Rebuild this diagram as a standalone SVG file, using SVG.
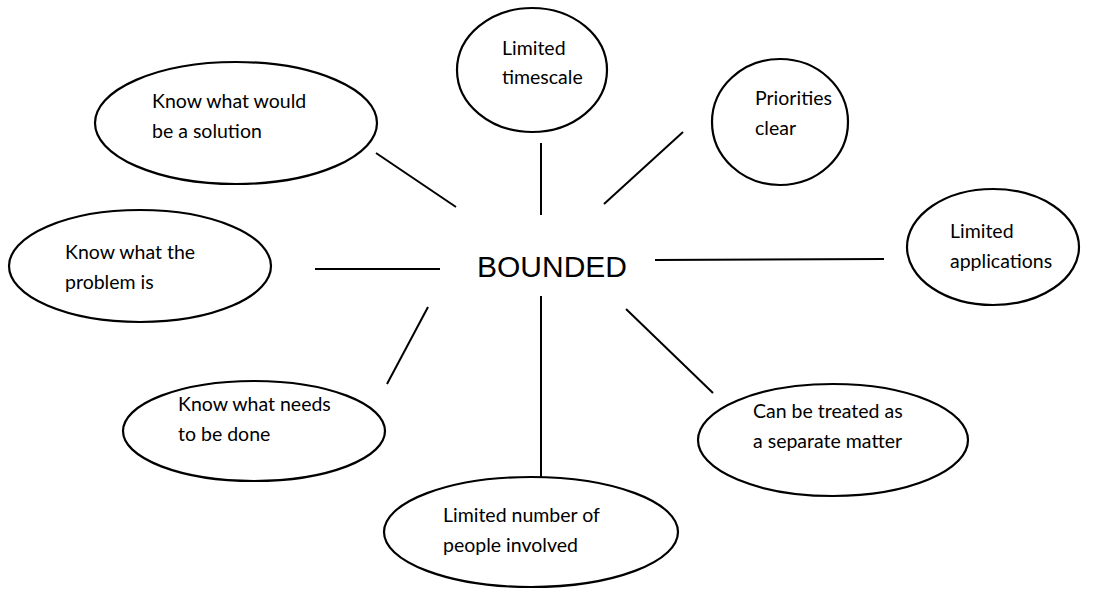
<svg xmlns="http://www.w3.org/2000/svg" width="1100" height="589" viewBox="0 0 1100 589">
<style>
.n ellipse{fill:#fff;stroke:#000;stroke-width:2.2}
.n text{font-family:Lato,"Open Sans",sans-serif;font-size:19.5px;fill:#000}
#edges line{stroke:#000;stroke-width:2}
.c{font-family:"Liberation Sans",Arial,sans-serif;font-size:30px;fill:#000}
</style>
<rect width="1100" height="589" fill="#fff"/>
<g id="edges">
<line x1="376" y1="153" x2="456" y2="207"/>
<line x1="541" y1="143" x2="541" y2="215"/>
<line x1="604" y1="204" x2="683" y2="132"/>
<line x1="655" y1="260" x2="884" y2="259"/>
<line x1="315" y1="269" x2="440" y2="269"/>
<line x1="428" y1="307" x2="387" y2="384"/>
<line x1="541" y1="296" x2="541" y2="489"/>
<line x1="626" y1="309" x2="713" y2="393"/>
</g>
<g id="center"><text class="c" x="477" y="277">BOUNDED</text></g>
<g id="n1" class="n"><ellipse cx="236" cy="123" rx="141" ry="61"/><text x="152" y="108">Know what would</text><text x="152" y="138">be a solution</text></g>
<g id="n2" class="n"><ellipse cx="532" cy="70" rx="75" ry="62"/><text x="502" y="55">Limited</text><text x="502" y="84">timescale</text></g>
<g id="n3" class="n"><ellipse cx="780" cy="122" rx="68" ry="63"/><text x="755" y="105">Priorities</text><text x="755" y="135">clear</text></g>
<g id="n4" class="n"><ellipse cx="993" cy="247" rx="86" ry="58"/><text x="950" y="238">Limited</text><text x="950" y="268">applications</text></g>
<g id="n5" class="n"><ellipse cx="140" cy="266" rx="131" ry="56"/><text x="65" y="259">Know what the</text><text x="65" y="289">problem is</text></g>
<g id="n6" class="n"><ellipse cx="254" cy="431" rx="131" ry="50"/><text x="178" y="411">Know what needs</text><text x="178" y="441">to be done</text></g>
<g id="n7" class="n"><ellipse cx="833" cy="440" rx="135" ry="56"/><text x="753" y="418">Can be treated as</text><text x="753" y="448">a separate matter</text></g>
<g id="n8" class="n"><ellipse cx="531" cy="532" rx="147" ry="55"/><text x="443" y="522">Limited number of</text><text x="443" y="552">people involved</text></g>
</svg>
